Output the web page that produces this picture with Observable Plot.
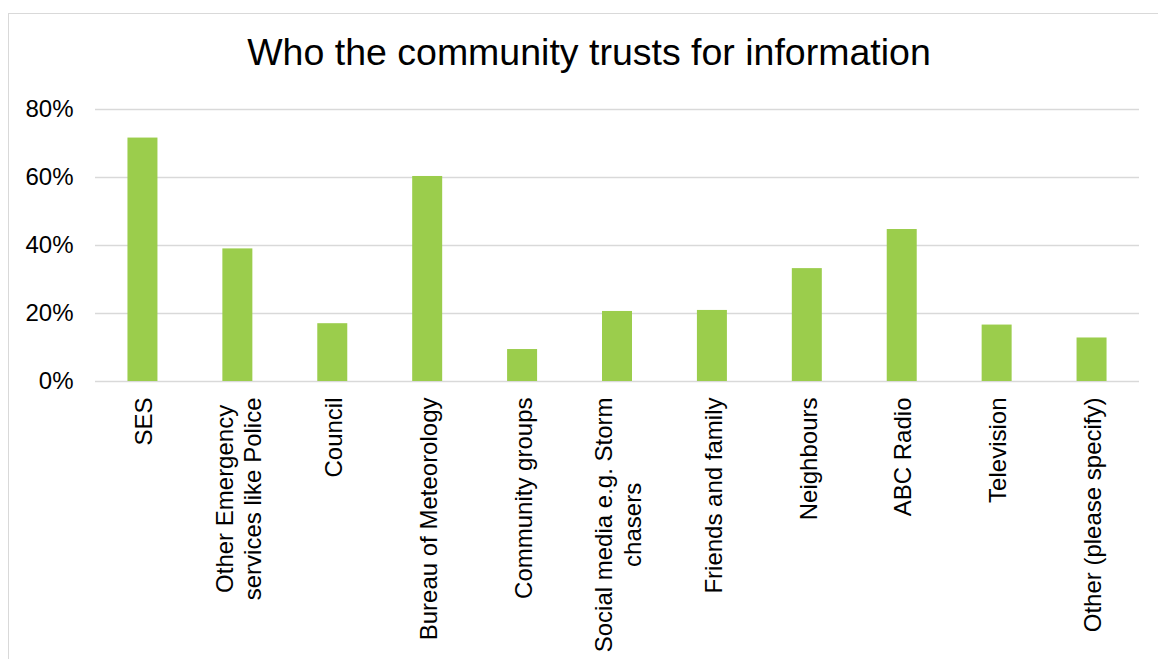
<!DOCTYPE html>
<html>
<head>
<meta charset="utf-8">
<script src="https://cdn.jsdelivr.net/npm/d3@7"></script>
<script src="https://cdn.jsdelivr.net/npm/@observablehq/plot@0.6"></script>
<style>
  html, body { margin: 0; padding: 0; background: #fff; overflow: hidden; width: 1158px; height: 659px; }
  #frame { position: absolute; left: 8px; top: 13px; width: 1170px; height: 720px; border: 1.5px solid #d9d9d9; box-sizing: border-box; pointer-events: none; }
  #title { position: relative; width: 1178px; height: 58px; padding-top: 32px; font-family: "Liberation Sans", Arial, sans-serif; font-size: 37.5px; line-height: 40px; text-align: center; color: #000; }
  #chart { position: relative; }
</style>
</head>
<body>
<div id="frame"></div>
<div id="title">Who the community trusts for information</div>
<div id="chart"></div>
<script>
const categories = [
  "SES",
  "Other Emergency services like Police",
  "Council",
  "Bureau of Meteorology",
  "Community groups",
  "Social media e.g. Storm chasers",
  "Friends and family",
  "Neighbours",
  "ABC Radio",
  "Television",
  "Other (please specify)"
];
const tickLabels = [
  "SES",
  "Other Emergency\nservices like Police",
  "Council",
  "Bureau of Meteorology",
  "Community groups",
  "Social media e.g. Storm\nchasers",
  "Friends and family",
  "Neighbours",
  "ABC Radio",
  "Television",
  "Other (please specify)"
];
const values = [71.6, 39.0, 17.0, 60.3, 9.4, 20.6, 20.9, 33.2, 44.7, 16.6, 12.8];
const yTicks = [0, 20, 40, 60, 80];

const data = categories.map((c, i) => ({category: c, value: values[i], label: tickLabels[i]}));

const plot = Plot.plot({
  width: 1158,
  height: 569,
  marginTop: 19,
  marginBottom: 278,
  marginLeft: 95,
  marginRight: 19,
  style: {fontFamily: "'Liberation Sans', Arial, sans-serif", fontSize: "24px", color: "#000", background: "transparent", overflow: "visible"},
  x: {domain: categories, paddingInner: 0.684, paddingOuter: 0.342, round: false, axis: null},
  y: {domain: [0, 80], axis: null},
  marks: [
    Plot.gridY({ticks: yTicks, stroke: "#d9d9d9", strokeOpacity: 1, strokeWidth: 1.5}),
    Plot.barY(data, {x: "category", y: "value", fill: "#9bcd4c"}),
    Plot.axisY({ticks: yTicks, tickFormat: d => d + "%", tickSize: 0, tickPadding: 22, fontSize: 24, fill: "#000", label: null}),
    Plot.text(data, {x: "category", text: "label", frameAnchor: "bottom", dy: 16, rotate: -90, textAnchor: "end", lineAnchor: "middle", lineHeight: 1.2, fontSize: 24, fill: "#000"})
  ]
});
document.getElementById("chart").appendChild(plot);

// Center multi-line tick labels within their block (as in the original)
plot.querySelectorAll("text").forEach(t => {
  const spans = t.querySelectorAll("tspan");
  if (spans.length > 1) {
    let maxLen = 0;
    spans.forEach(s => { maxLen = Math.max(maxLen, s.getComputedTextLength()); });
    t.setAttribute("text-anchor", "middle");
    spans.forEach(s => s.setAttribute("x", -maxLen / 2));
  }
});
</script>
</body>
</html>
